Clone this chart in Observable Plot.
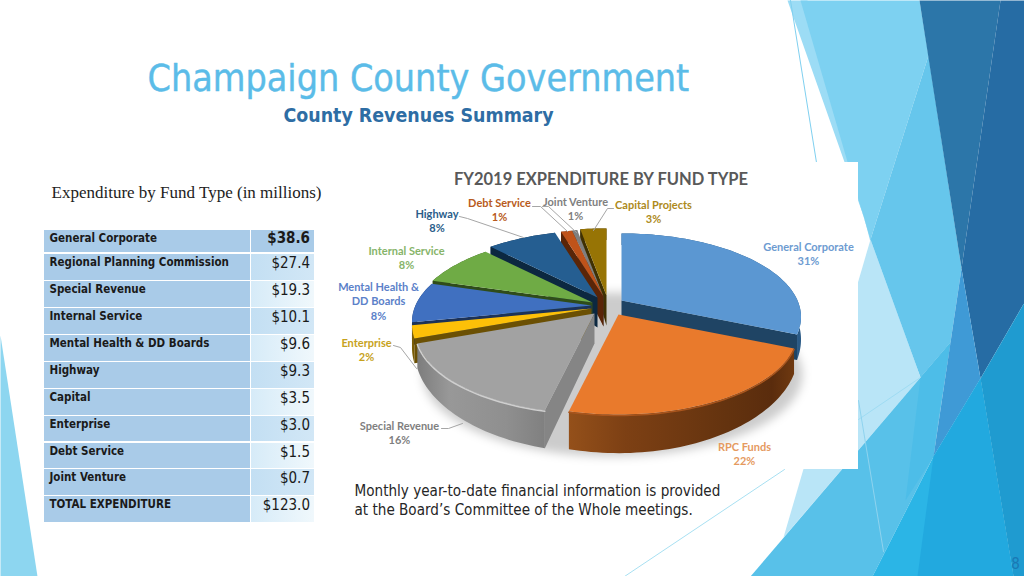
<!DOCTYPE html>
<html>
<head>
<meta charset="utf-8">
<script src="https://cdn.jsdelivr.net/npm/d3@7"></script>
<script src="https://cdn.jsdelivr.net/npm/@observablehq/plot@0.6"></script>
<style>html,body{margin:0;padding:0;background:#fff;overflow:hidden}</style>
</head>
<body>
<div id="chart"></div>
<script>
// ---- table data
const tableFunds = ["General Corporate","Regional Planning Commission","Special Revenue","Internal Service","Mental Health & DD Boards","Highway","Capital","Enterprise","Debt Service","Joint Venture","TOTAL EXPENDITURE"];
const tableAmounts = [38.6,27.4,19.3,10.1,9.6,9.3,3.5,3.0,1.5,0.7,123.0];

// ---- pie data, clockwise from 12 o'clock
const pieFunds = ["General Corporate","RPC Funds","Special Revenue","Enterprise","Mental Health & DD Boards","Internal Service","Highway","Debt Service","Joint Venture","Capital Projects"];
const pieAmounts = [38.6,27.4,19.3,3.0,9.6,10.1,9.3,1.5,0.7,3.5];
const piePercents = ["31%","22%","16%","2%","8%","8%","8%","1%","1%","3%"];

// ---- styling of the slices (same order as pieFunds)
const topColors  = ["#5b97d2","#e97a2c","#a2a2a2","#fdc008","#4070c0","#6fab45","#255e91","#c0531a","#7f7f7f","#977405"];
const wallColors = ["#2a5a86","url(#rpcWall)","url(#specWall)","#7a5c05","#1f3a68","#37571f","#0f2f4e","#63290a","#444444","#4b3a02"];
const cutColors  = ["#1f4464","#6a3510","#858585","#6b5004","#1c3258","#2f4c1a","#0c2840","#5a2508","#3d3d3d","#3f3002"];
const labelColors = ["#6d9bd1","#e59a5f","#7f7f7f","#c7a21c","#5b81c9","#86b469","#2a5d8a","#b85a20","#7f7f7f","#ad8a1b"];
// exploded apex of each slice on the page
const apexX = [621,618,594,591,591,592,597,603,603,606];
const apexY = [300,314,313,308,305,302,297,296,296,295];
// 3D projection constants of the disc
const R = 176, RY = 80.3, K = 0.197;

// ---- label layout: [lines, x, first baseline]
const labelX = [808,744,399,366,378,406,436.5,499,575,653];
const labelY = [250,450,429,346,290,254,217,206,205,208];
const labelLines = [["General Corporate"],["RPC Funds"],["Special Revenue"],["Enterprise"],["Mental Health &","DD Boards"],["Internal Service"],["Highway"],["Debt Service"],["Joint Venture"],["Capital Projects"]];
const leaders = [
  {id:"s",pts:[[441,428],[448,428],[462,423]]},
  {id:"e",pts:[[393,345],[400,347],[416,368]]},
  {id:"h",pts:[[459,216],[467,218],[523,237]]},
  {id:"d",pts:[[532,206],[540,206],[567,231]]},
  {id:"j",pts:[[542,206],[548,206],[576,232]]},
  {id:"c",pts:[[613,208],[607,208],[593,230]]}
];

// ---- slide decoration
const bgShapes = [
  {c:"#8dd6f0",p:[[0,335],[37,576],[0,576]]},
  {c:"#9cdcf5",p:[[787,0],[807,0],[880,280],[920,377]]},
  {c:"#7dd1f1",p:[[800,0],[919,0],[928,55],[870,239],[860,206]]},
  {c:"#66c6ec",p:[[928,55],[961,268],[950,342],[920,377],[870,239]]},
  {c:"#b9e5f7",p:[[870,239],[920,377],[783,537]]},
  {c:"#2c76a9",p:[[919,0],[1000,0],[961,268]]},
  {c:"#266ca4",p:[[1000,0],[1024,0],[1024,302],[980,378],[961,268]]},
  {c:"#58c1e9",p:[[920,377],[950,342],[933,456],[872,576],[750,576]]},
  {c:"#4dbde8",p:[[920,377],[950,342],[937,423],[933,456],[905,500]]},
  {c:"#3f9ad6",p:[[961,268],[980,378],[933,456],[950,342]]},
  {c:"#2bb5e6",p:[[980,378],[933,456],[872,576],[1013,576]]},
  {c:"#22a9df",p:[[980,378],[933,456],[917,576],[1013,576]]},
  {c:"#1f9bd0",p:[[980,378],[1024,302],[1024,576],[1013,576]]}
];
const bgLines = [
  {c:"#7fd0f0",p:[[790,0],[816,162]]},
  {c:"#a8e0f2",p:[[624,576],[784,469]]},
  {c:"#9fdcf3",p:[[858,419],[920,377]]},
  {c:"#8fd3ee",p:[[858,400],[883,551]]}
];

// ---- geometry derived from the values
const arcs = d3.pie().sort(null).value(d => d)(pieAmounts);
const deg = a => a * 180 / Math.PI;
function rim(i, th, r = 1) {
  const u = Math.sin(th), v = -Math.cos(th), s = 1 / (1 - K * v * r);
  return {x: apexX[i] + R * u * r * s, y: apexY[i] + RY * v * r * s, s};
}
const depthAt = s => 20 * s * s * s;
const APEX_DEPTH = 30;
function arcPts(i, a0, a1) {
  const n = Math.max(2, Math.ceil(deg(a1 - a0) / 1.5));
  return d3.range(n + 1).map(k => rim(i, a0 + (a1 - a0) * k / n));
}
const polys = [];
const add = (id, fill, pts) => pts.forEach(p => polys.push({id, fill, x: p.x, y: p.y}));
// draw from back to front
const drawOrder = [9,8,7,6,5,4,3,0,2,1];
for (const i of drawOrder) {
  const {startAngle: a0, endAngle: a1} = arcs[i];
  const arc = arcPts(i, a0, a1);
  const apex = {x: apexX[i], y: apexY[i]};
  const apexB = {x: apex.x, y: apex.y + APEX_DEPTH};
  const drop = p => ({x: p.x, y: p.y + depthAt(p.s)});
  // outer wall
  add(`w${i}`, wallColors[i], [...arc, ...arc.map(drop).reverse()]);
  // radial cut walls that face the viewer
  if (a0 > Math.PI) add(`c${i}`, cutColors[i], [apex, arc[0], drop(arc[0]), apexB]);
  if (a1 < Math.PI) add(`c${i}`, cutColors[i], [apex, arc[arc.length-1], drop(arc[arc.length-1]), apexB]);
  // top face
  add(`t${i}`, topColors[i], [apex, ...arc]);
}
const rimLight = [
  ...arcPts(2, arcs[2].startAngle, arcs[2].endAngle).map(p => ({id:"r2", x:p.x, y:p.y+1, c:"#cfcfcf"})),
  ...arcPts(1, arcs[1].startAngle, arcs[1].endAngle).map(p => ({id:"r1", x:p.x, y:p.y+1, c:"#a9551d"}))
];
const shadow = d3.range(0, 360, 5).map(a => ({x: 612 + 190*Math.sin(a*Math.PI/180), y: 374 + 82*Math.cos(a*Math.PI/180)}));

const bgRows = bgShapes.flatMap((s,i) => s.p.map(([x,y]) => ({id:i, c:s.c, x, y})));
const bgLineRows = bgLines.flatMap((s,i) => s.p.map(([x,y]) => ({id:i, c:s.c, x, y})));
const leaderRows = leaders.flatMap(l => l.pts.map(([x,y]) => ({id:l.id, x, y})));

// ---- text rows
const pieTextRows = pieFunds.flatMap((f,i) => {
  const lines = [...labelLines[i], piePercents[i]];
  return lines.map((t,k) => ({t, x: labelX[i], y: labelY[i] + k*14.7, c: labelColors[i]}));
});

// ---- table rows
const rowTops = [230,254,281,308,335,362,389,416,443,469,496];
const rowBottoms = [252,280,307,334,361,388,415,441,468,495,522];
const valueFills = ["#a9cbe8","url(#valA)","url(#valB)","url(#valA)","url(#valB)","url(#valA)","url(#valB)","url(#valA)","url(#valB)","url(#valA)","url(#valB)"];
const tableRows = tableFunds.map((f,i) => ({f, v:"$"+tableAmounts[i].toFixed(1), t:rowTops[i], b:rowBottoms[i], vf:valueFills[i], bold:i===0}));

const defs = () => {
  const d = d3.create("svg:defs");
  const grad = (id, stops) => {
    const g = d.append("linearGradient").attr("id", id).attr("x1",0).attr("x2",1).attr("y1",0).attr("y2",0);
    stops.forEach(([o,c]) => g.append("stop").attr("offset",o).attr("stop-color",c));
  };
  grad("rpcWall", [[0,"#94501a"],[0.25,"#7d4014"],[0.7,"#64330f"],[0.9,"#5a2c0d"],[1,"#6f3910"]]);
  grad("specWall", [[0,"#7d7d7d"],[0.25,"#989898"],[0.7,"#8f8f8f"],[1,"#808080"]]);
  grad("valA", [[0,"#c3dff3"],[1,"#d2e7f6"]]);
  grad("valB", [[0,"#d6ebf8"],[1,"#f0f8fc"]]);
  return d.node();
};

const sans = "'DejaVu Sans Condensed','DejaVu Sans',sans-serif";
const carlito = "Lato,sans-serif";

const plot = Plot.plot({
  width: 1024, height: 576, margin: 0,
  style: {background:"#fff", display:"block"},
  x: {axis:null, domain:[0,1024], range:[0,1024]},
  y: {axis:null, domain:[0,576], range:[0,576]},
  color: {type:"identity"},
  marks: [
    defs,
    // slide background
    Plot.line(bgRows, {x:"x", y:"y", z:"id", fill:"c", stroke:"none"}),
    Plot.line(bgLineRows, {x:"x", y:"y", z:"id", stroke:"c", strokeWidth:1}),
    // white image box of the pie
    Plot.rect([{}], {x1:()=>345, x2:()=>858, y1:()=>162, y2:()=>469, fill:"#fff"}),
    // pie
    Plot.line(shadow, {x:"x", y:"y", fill:"#000", fillOpacity:0.2, stroke:"none", imageFilter:"blur(5px)"}),
    Plot.line(polys, {x:"x", y:"y", z:"id", fill:"fill", stroke:"none", imageFilter:"blur(0.4px)"}),
    Plot.line(rimLight, {x:"x", y:"y", z:"id", stroke:"c", strokeWidth:1.5, imageFilter:"blur(0.5px)"}),
    Plot.line(leaderRows, {x:"x", y:"y", z:"id", stroke:"#a6a6a6", strokeWidth:1}),
    Plot.text(["FY2019 EXPENDITURE BY FUND TYPE"], {x:()=>600.5, y:()=>184, text:d=>d, fill:"#595959", fontFamily:carlito, fontWeight:700, fontSize:16.5, lineAnchor:"bottom"}),
    Plot.text(pieTextRows, {x:"x", y:"y", text:"t", fill:"c", fontFamily:carlito, fontWeight:700, fontSize:11, lineAnchor:"bottom"}),
    // headline
    Plot.text(["Champaign County Government"], {x:()=>147, y:()=>90, text:d=>d, textAnchor:"start", lineAnchor:"bottom", fill:"#5bbce8", stroke:"#5bbce8", strokeWidth:0.4, fontFamily:sans, fontSize:37.3}),
    Plot.text(["County Revenues Summary"], {x:()=>418, y:()=>121, text:d=>d, lineAnchor:"bottom", fill:"#2e6da4", fontFamily:sans, fontWeight:700, fontSize:19.4}),
    Plot.text(["Expenditure by Fund Type (in millions)"], {x:()=>51, y:()=>197, text:d=>d, textAnchor:"start", lineAnchor:"bottom", fill:"#222", fontFamily:"'Liberation Serif',serif", fontSize:17}),
    // table
    Plot.rect(tableRows, {x1:()=>44, x2:()=>250, y1:"t", y2:"b", fill:"#a9cbe8"}),
    Plot.rect(tableRows, {x1:()=>251, x2:()=>314, y1:"t", y2:"b", fill:"vf"}),
    Plot.text(tableRows, {x:()=>49, y:d=>d.t+7.5, text:"f", textAnchor:"start", fill:"#1a1a1a", fontFamily:sans, fontWeight:700, fontSize:11.5, lineAnchor:"middle"}),
    Plot.text(tableRows.filter(d=>!d.bold), {x:()=>309.5, y:d=>d.t+9, text:"v", textAnchor:"end", fill:"#1a1a1a", fontFamily:sans, fontSize:15, lineAnchor:"middle"}),
    Plot.text(tableRows.filter(d=>d.bold), {x:()=>309.5, y:d=>d.t+8, text:"v", textAnchor:"end", fill:"#1a1a1a", fontFamily:sans, fontWeight:700, fontSize:15, lineAnchor:"middle"}),
    // caption
    Plot.text(["Monthly year-to-date financial information is provided","at the Board’s Committee of the Whole meetings."], {x:()=>354, y:(d,i)=>495+i*19, text:d=>d, textAnchor:"start", lineAnchor:"bottom", fill:"#262626", fontFamily:sans, fontSize:15.1}),
    Plot.text(["8"], {x:()=>1015, y:()=>568, text:d=>d, lineAnchor:"bottom", fill:"#1a78b4", fontFamily:sans, fontSize:15})
  ]
});
document.getElementById("chart").append(plot);
</script>
</body>
</html>
